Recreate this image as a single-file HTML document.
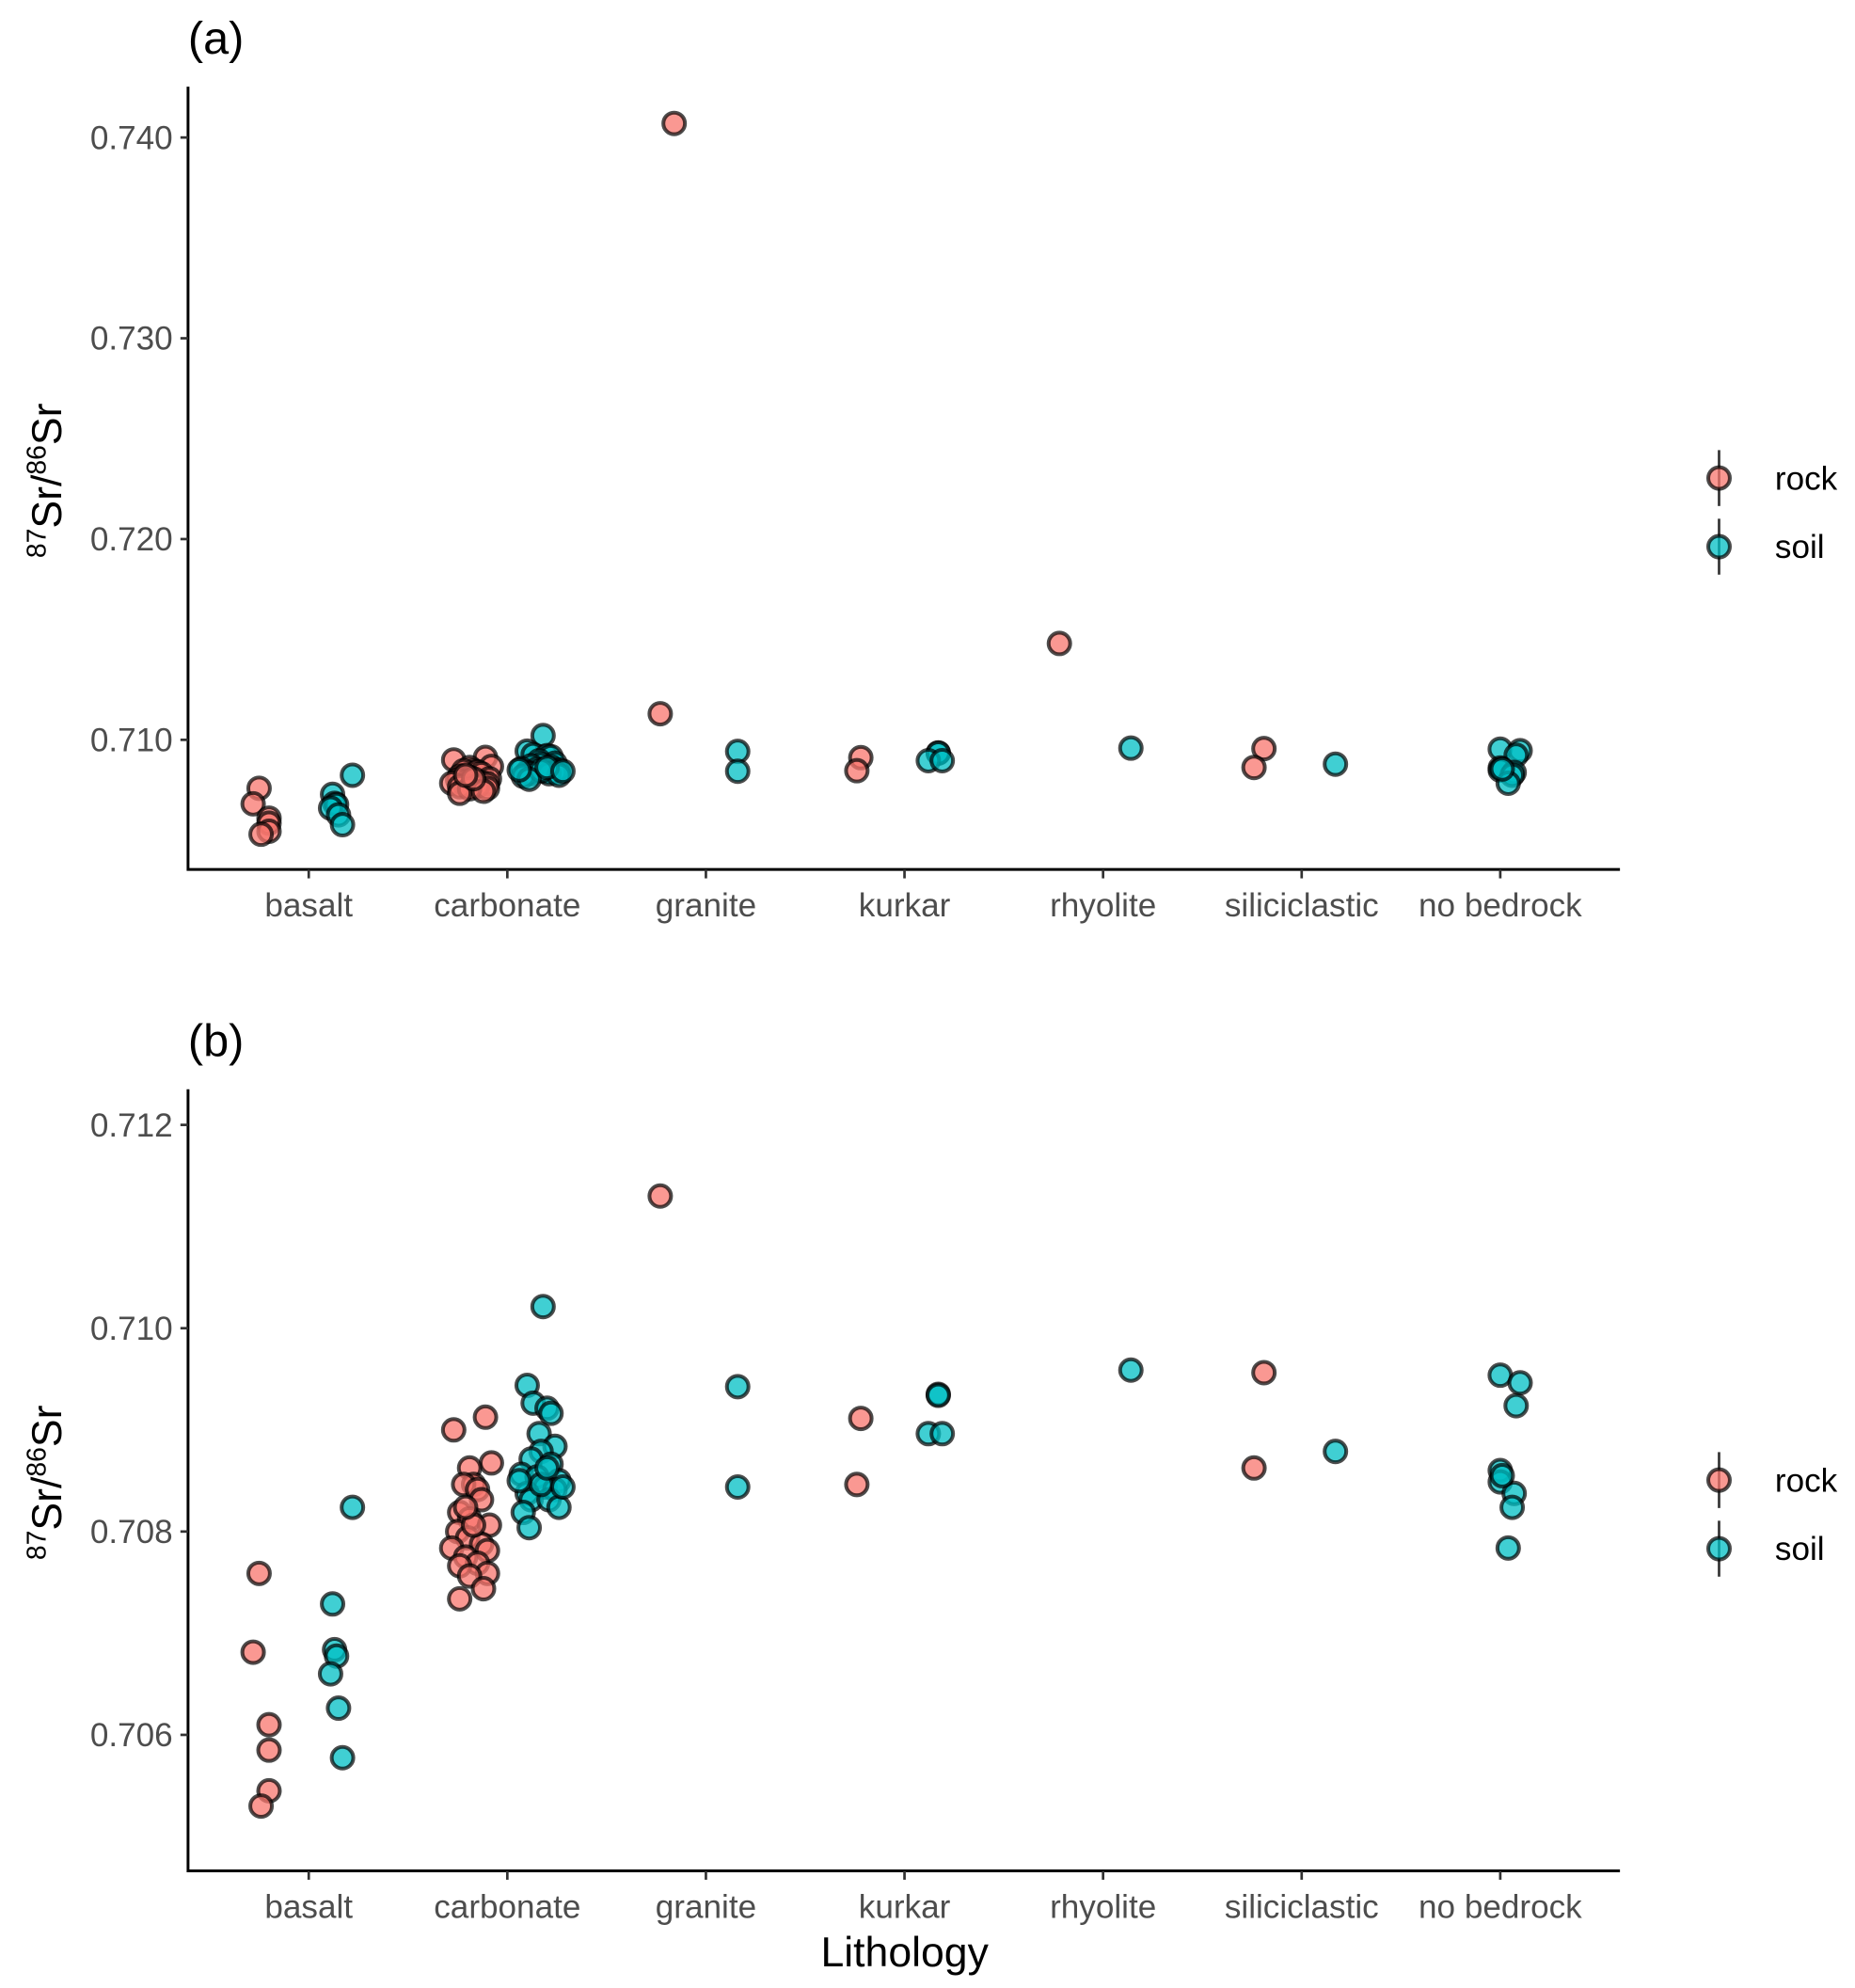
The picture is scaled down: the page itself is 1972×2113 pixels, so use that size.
<!DOCTYPE html>
<html><head><meta charset="utf-8"><style>
html,body{margin:0;padding:0;background:#fff}
svg{display:block;font-family:"Liberation Sans",Arial,sans-serif}
</style></head><body>
<svg id="chart" width="1972" height="2113" viewBox="0 0 1460 1564" xmlns="http://www.w3.org/2000/svg">
<rect width="1460" height="1564" fill="#fff"/>
<g id="panels"></g>
</svg>
<script>
const categories = ["basalt","carbonate","granite","kurkar","rhyolite","siliciclastic","no bedrock"];
const pointCat = [0,0,0,0,0,0, 0,0,0,0,0,0,0,
 1,1,1,1,1,1,1,1,1,1,1,1,1,1,1,1,1,1,1,1,1,1,1,1,1,
 1,1,1,1,1,1,1,1,1,1,1,1,1,1,1,1,1,1,1,1,1,1,1,1,1,
 2,2,2,2, 3,3,3,3,3,3, 4,4, 5,5,5, 6,6,6,6,6,6,6,6,6];
const pointType = ["rock","rock","rock","rock","rock","rock","soil","soil","soil","soil","soil","soil","soil",
 "rock","rock","rock","rock","rock","rock","rock","rock","rock","rock","rock","rock","rock","rock","rock","rock","rock","rock","rock","rock","rock","rock","rock","rock","rock",
 "soil","soil","soil","soil","soil","soil","soil","soil","soil","soil","soil","soil","soil","soil","soil","soil","soil","soil","soil","soil","soil","soil","soil","soil","soil",
 "rock","rock","soil","soil", "rock","rock","soil","soil","soil","soil", "rock","soil", "rock","rock","soil",
 "soil","soil","soil","soil","soil","soil","soil","soil","soil"];
const pointValue = [0.707588,0.706813,0.706100,0.705850,0.705450,0.705300,
 0.708238,0.707288,0.706838,0.706775,0.706600,0.706263,0.705775,
 0.709000,0.709125,0.708675,0.708625,0.708463,0.708463,0.708413,0.708313,0.708188,0.708125,0.708063,0.708000,0.707938,0.707875,0.707838,0.707813,0.707750,0.707688,0.707663,0.707588,0.707563,0.707438,0.707338,0.708063,0.708238,
 0.710213,0.709438,0.709263,0.709213,0.709163,0.708963,0.708838,0.708788,0.708713,0.708663,0.708563,0.708500,0.708538,0.708438,0.708375,0.708413,0.708313,0.708313,0.708238,0.708188,0.708463,0.708038,0.708625,0.708500,0.708438,
 0.7407,0.711300,0.709425,0.708438,
 0.709113,0.708463,0.709350,0.709340,0.708963,0.708963,
 0.7148,0.709588,
 0.709563,0.708625,0.708788,
 0.709538,0.709463,0.709238,0.708600,0.708488,0.708375,0.708238,0.707838,0.708550];
const pointJitter = [-0.25,-0.28,-0.20,-0.20,-0.20,-0.24,
 0.22,0.12,0.13,0.14,0.11,0.15,0.17,
 -0.27,-0.11,-0.08,-0.19,-0.17,-0.22,-0.15,-0.13,-0.24,-0.19,-0.09,-0.25,-0.20,-0.13,-0.28,-0.10,-0.21,-0.15,-0.24,-0.10,-0.19,-0.12,-0.24,-0.17,-0.21,
 0.18,0.10,0.13,0.20,0.22,0.16,0.24,0.17,0.12,0.22,0.07,0.26,0.15,0.19,0.10,0.24,0.12,0.21,0.26,0.08,0.17,0.11,0.20,0.06,0.28,
 -0.16,-0.23,0.16,0.16,
 -0.22,-0.24,0.17,0.17,0.12,0.19,
 -0.22,0.14,
 -0.19,-0.24,0.17,
 0.00,0.10,0.08,0.00,0.00,0.07,0.06,0.04,0.01];
const ticksA = [0.710,0.720,0.730,0.740];
const tickLabelsA = ["0.710","0.720","0.730","0.740"];
const ticksB = [0.706,0.708,0.710,0.712];
const tickLabelsB = ["0.706","0.708","0.710","0.712"];

const NS="http://www.w3.org/2000/svg";
const root=document.getElementById('panels');
function mk(tag,attrs,parent){const e=document.createElementNS(NS,tag);for(const k in attrs)e.setAttribute(k,attrs[k]);(parent||root).appendChild(e);return e;}
const colors={rock:"#F8766D",soil:"#00BFC4"};
const xL=148,xR=1275,catX0=243,catStep=156.3;
function xScale(c,j){return catX0+(c+j)*catStep;}

function panel(label,top,bottom,v0,y0,v1,y1,ticks,tickLabels,showXTitle){
  const g=mk('g',{});
  
  
  const yS=v=>y0+(v-v0)*(y1-y0)/(v1-v0);
  const t=mk('text',{x:148,y:top-26,'font-size':36,fill:'#000'},g);t.textContent='('+label+')';
  
  
  const pg=mk('g',{},g);
  
  
  for(let i=0;i<pointValue.length;i++){
    const y=yS(pointValue[i]);
    if(y<top||y>bottom)continue;
    const c=mk('circle',{cx:xScale(pointCat[i],pointJitter[i]),cy:y,r:8.5,fill:colors[pointType[i]],'fill-opacity':0.75,stroke:'#000','stroke-opacity':0.7,'stroke-width':3},pg);
    
    
  }
  const ax=mk('path',{d:`M${xL},${top}V${bottom}H${xR}`,fill:'none',stroke:'#000','stroke-width':2.2},g);
  
  
  ticks.forEach((v,i)=>{
    const y=yS(v);
    mk('line',{x1:142,x2:148,y1:y,y2:y,stroke:'#333','stroke-width':2},g);
    const tl=mk('text',{x:136,y:y+9,'font-size':26,fill:'#4d4d4d','text-anchor':'end'},g);
    tl.textContent=tickLabels[i];
    
    
  });
  categories.forEach((c,i)=>{
    const x=xScale(i,0);
    mk('line',{x1:x,x2:x,y1:bottom,y2:bottom+7,stroke:'#333','stroke-width':2},g);
    const tl=mk('text',{x:x,y:bottom+37,'font-size':26,fill:'#4d4d4d','text-anchor':'middle'},g);
    tl.textContent=c;
    
    
  });
  const yt=mk('text',{transform:`translate(48,${(top+bottom)/2+2}) rotate(-90)`,'font-size':33,fill:'#000','text-anchor':'middle'},g);
  yt.innerHTML='<tspan font-size="21" dy="-12">87</tspan><tspan dy="12">Sr/</tspan><tspan font-size="21" dy="-12">86</tspan><tspan dy="12">Sr</tspan>';
  
  
  if(showXTitle){
    const xt=mk('text',{x:712,y:bottom+75,'font-size':33,fill:'#000','text-anchor':'middle'},g);
    xt.textContent='Lithology';
    
    
  }
  const mid=(top+bottom)/2+27;
  [["rock",mid-27],["soil",mid+27]].forEach(([k,y])=>{
    const lg=mk('g',{},g);
    
    
    mk('line',{x1:1353,x2:1353,y1:y-22,y2:y+22,stroke:'#333','stroke-width':2},lg);
    mk('circle',{cx:1353,cy:y,r:8.5,fill:colors[k],'fill-opacity':0.75,stroke:'#000','stroke-opacity':0.7,'stroke-width':3},lg);
    const tx=mk('text',{x:1397,y:y+9,'font-size':26,fill:'#000'},lg);
    tx.textContent=k;
  });
}
panel('a',68,684,0.740,108,0.710,582,ticksA,tickLabelsA,false);
panel('b',857,1472,0.712,885,0.706,1365,ticksB,tickLabelsB,true);
</script>
</body></html>
